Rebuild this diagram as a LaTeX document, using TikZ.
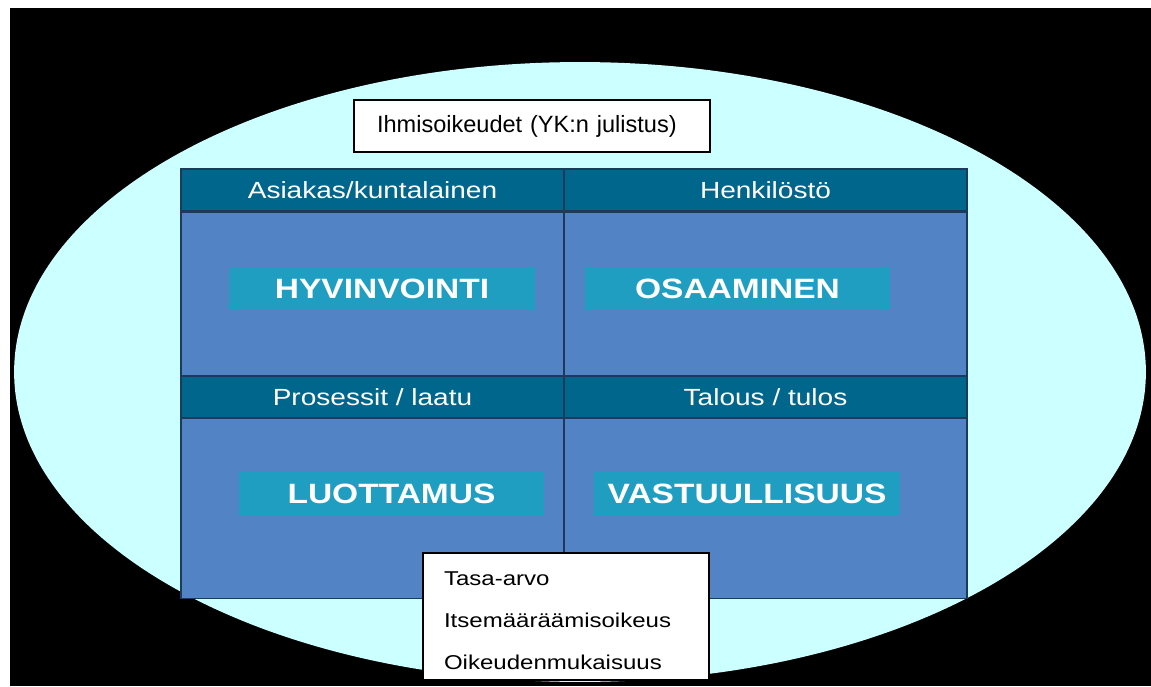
\documentclass[tikz,border=0pt]{standalone}
\usepackage{fontspec}
\setmainfont{Liberation Sans}
\newfontfamily\breit[FakeStretch=1.2]{Liberation Sans}
\usetikzlibrary{positioning, shapes}

\definecolor{himmel}{HTML}{CCFFFF}
\definecolor{feld}{HTML}{5283C5}
\definecolor{kopf}{HTML}{00668C}
\definecolor{balken}{HTML}{1F9EC2}
\definecolor{linie}{HTML}{1B3A5C}

\begin{document}
\begin{tikzpicture}[
        x=0.02cm, y=-0.02cm,
        every node/.style={inner sep=0pt},
        kopfzeile/.style={rectangle, draw=linie, line width=0.7pt, fill=kopf, text=white, font=\breit\fontsize{13.3}{16}\selectfont},
        feldbox/.style={rectangle, draw=linie, line width=0.7pt, fill=feld},
        balkenbox/.style={rectangle, fill=balken, text=white, minimum width=6.12cm, minimum height=0.86cm, font=\breit\bfseries\fontsize{15.9}{18}\selectfont},
        textbox/.style={rectangle, draw=black, line width=0.8pt, fill=white, align=left}
    ]

    % Hintergrund
    \useasboundingbox (0,0) rectangle (1151,686);
    \fill[white] (0,0) rectangle (1151,686);
    \fill[black] (10,8) rectangle (1151,686);

    % Ellipse
    \node[ellipse, fill=himmel, minimum width=22.64cm, minimum height=12.4cm] (welt) at (580,372) {};

    % Obere Zeile
    \node[kopfzeile, minimum width=7.66cm, minimum height=0.84cm] (kopfA) at (372.5,190) {Asiakas/kuntalainen};
    \node[feldbox, minimum width=7.66cm, minimum height=3.26cm, below=0pt of kopfA] (feldA) {};
    \node[kopfzeile, minimum width=8.06cm, minimum height=0.84cm] (kopfB) at (765.5,190) {Henkilöstö};
    \node[feldbox, minimum width=8.06cm, minimum height=3.26cm, below=0pt of kopfB] (feldB) {};

    % Untere Zeile
    \node[kopfzeile, minimum width=7.66cm, minimum height=0.82cm, below=0pt of feldA] (kopfC) {Prosessit / laatu};
    \node[feldbox, minimum width=7.66cm, minimum height=3.6cm, below=0pt of kopfC] (feldC) {};
    \node[kopfzeile, minimum width=8.06cm, minimum height=0.82cm, below=0pt of feldB] (kopfD) {Talous / tulos};
    \node[feldbox, minimum width=8.06cm, minimum height=3.6cm, below=0pt of kopfD] (feldD) {};

    % Balken
    \node[balkenbox] (hyvin) at (382,288.5) {HYVINVOINTI};
    \node[balkenbox] (osaam) at (737.5,288.5) {OSAAMINEN};
    \node[balkenbox] (luott) at (391.5,493.5) {LUOTTAMUS};
    \node[balkenbox] (vastu) at (747,493.5) {VASTUULLISUUS};

    % Textfelder
    \node[textbox, text width=6.2cm, inner xsep=0.46cm, minimum height=1.04cm, font=\fontsize{13.4}{16}\selectfont] (ihmis) at (532,126) {Ihmisoikeudet (YK:n julistus)};
    \node[textbox, text width=4.88cm, inner xsep=0.42cm, minimum height=2.54cm, font=\breit\fontsize{11.4}{24}\selectfont] (arvot) at (566,616.5) {\rule{0pt}{12.7pt}Tasa-arvo\\Itsemääräämisoikeus\\Oikeudenmukaisuus};

\end{tikzpicture}
\end{document}
